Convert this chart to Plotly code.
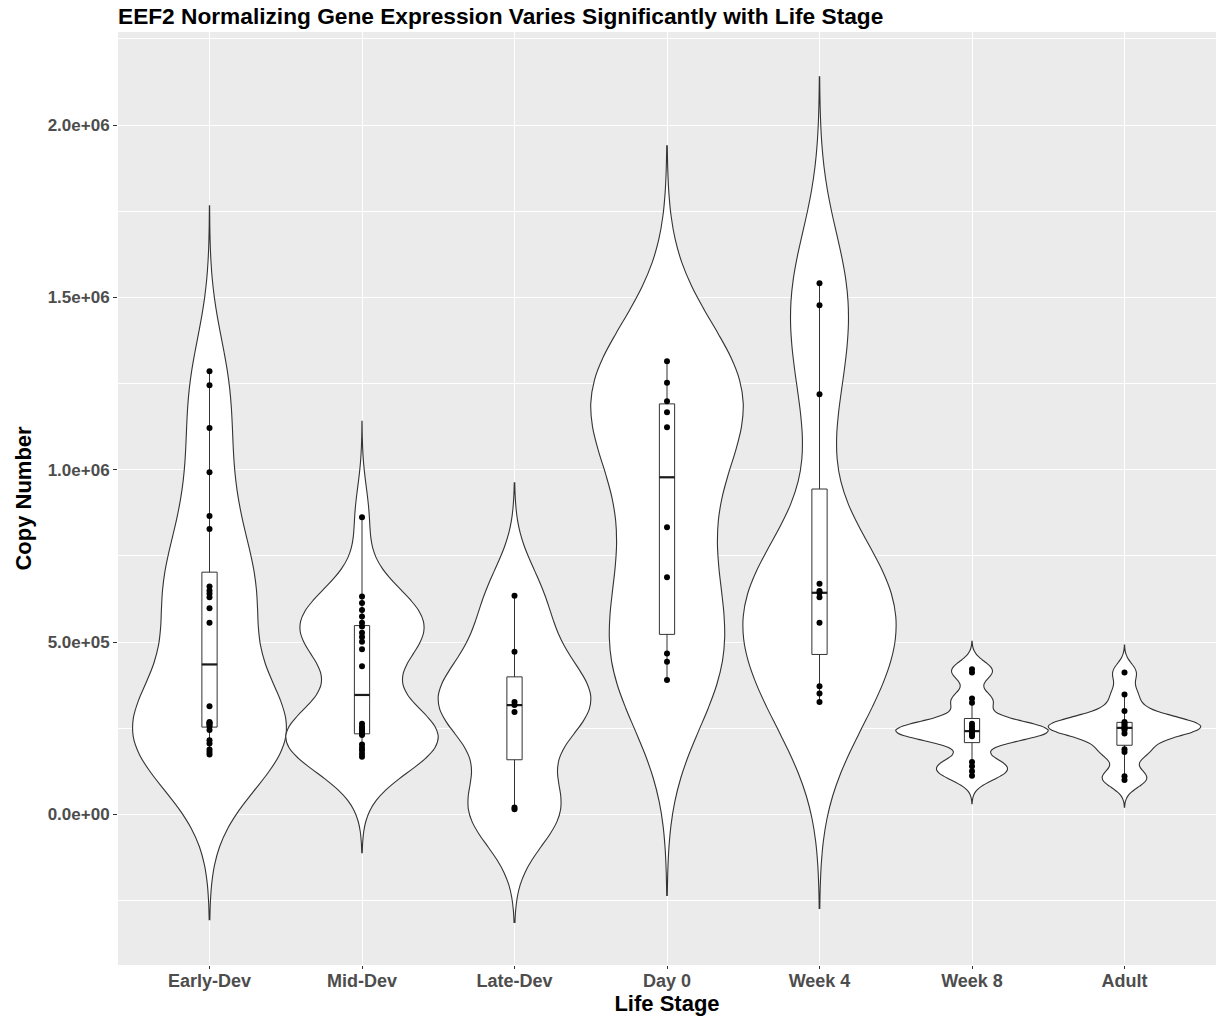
import numpy as np
import plotly.graph_objects as go

# EEF2 copy number per sample, grouped by life stage
stages = ["Early-Dev", "Mid-Dev", "Late-Dev", "Day 0", "Week 4", "Week 8", "Adult"]

early_dev = [174000, 181000, 188000, 206000, 215000, 245000, 256000, 260000, 264000,
             266000, 268000, 314000, 556000, 598000, 630000, 640000, 649000, 661000,
             828000, 866000, 993000, 1121000, 1245000, 1286000]
mid_dev = [167000, 176000, 186000, 193000, 203000, 230000, 235000, 239000, 244000,
           249000, 254000, 263000, 430000, 479000, 501000, 515000, 527000, 545000,
           556000, 574000, 593000, 613000, 632000, 862000]
late_dev = [15000, 20000, 297000, 317000, 326000, 472000, 634000]
day_0 = [390000, 443000, 467000, 688000, 833000, 1123000, 1167000, 1199000, 1252000, 1315000]
week_4 = [326000, 351000, 372000, 556000, 630000, 643000, 648000, 669000, 1219000,
          1477000, 1541000]
week_8 = [112000, 125000, 140000, 152000, 227000, 232000, 237000, 240000, 243000,
          247000, 255000, 263000, 324000, 336000, 412000, 421000]
adult = [100000, 111000, 181000, 189000, 235000, 245000, 249000, 253000, 258000,
         264000, 268000, 300000, 348000, 412000]

groups = [early_dev, mid_dev, late_dev, day_0, week_4, week_8, adult]

y_ticks = [0, 500000, 1000000, 1500000, 2000000]
y_tick_text = [f"{v:.1e}" for v in y_ticks]

FONT = "Liberation Sans, Arial, sans-serif"
LINE = "#333333"


def nrd0(x):
    """Silverman's rule of thumb (R's bw.nrd0)."""
    x = np.asarray(x, float)
    sd = x.std(ddof=1)
    q75, q25 = np.percentile(x, [75, 25])
    return 0.9 * min(sd, (q75 - q25) / 1.34) * len(x) ** -0.2


def box_stats(x):
    x = np.asarray(x, float)
    q1, med, q3 = np.percentile(x, [25, 50, 75])
    iqr = q3 - q1
    lo = x[x >= q1 - 1.5 * iqr].min()
    hi = x[x <= q3 + 1.5 * iqr].max()
    return q1, med, q3, lo, hi


fig = go.Figure()
box_half = 0.05

for i, vals in enumerate(groups):
    pos = i + 1
    arr = np.asarray(vals, float)
    bw = nrd0(arr)
    # untrimmed density: tails run three bandwidths past the data
    fig.add_trace(go.Violin(
        x=[pos] * len(arr), y=arr,
        bandwidth=bw, spanmode="manual",
        span=[arr.min() - 3 * bw, arr.max() + 3 * bw],
        scalemode="width", width=1.0, side="both",
        fillcolor="white", line=dict(color=LINE, width=1.1),
        points=False, box_visible=False, meanline_visible=False,
        hoverinfo="skip", showlegend=False,
    ))

    q1, med, q3, lo, hi = box_stats(arr)
    fig.add_trace(go.Box(
        x=[pos], q1=[q1], median=[med], q3=[q3], lowerfence=[lo], upperfence=[hi],
        width=2 * box_half, whiskerwidth=0, fillcolor="white",
        line=dict(color=LINE, width=1), boxpoints=False,
        hoverinfo="skip", showlegend=False,
    ))
    # heavier median bar, as in ggplot's boxplot
    fig.add_trace(go.Scatter(
        x=[pos - box_half, pos + box_half], y=[med, med], mode="lines",
        line=dict(color="#1a1a1a", width=2.2), hoverinfo="skip", showlegend=False,
    ))
    fig.add_trace(go.Scatter(
        x=[pos] * len(arr), y=arr, mode="markers",
        marker=dict(color="black", size=6, line=dict(width=0)),
        hoverinfo="skip", showlegend=False,
    ))

fig.update_layout(
    width=1217, height=1018,
    margin=dict(l=118, r=1, t=32, b=53),
    paper_bgcolor="white", plot_bgcolor="#EBEBEB",
    violinmode="overlay", boxmode="overlay",
    font=dict(family=FONT, color="black"),
    title=dict(
        text="EEF2 Normalizing Gene Expression Varies Significantly with Life Stage",
        x=0, xref="paper", xanchor="left", y=1 - 16 / 1018, yref="container",
        yanchor="middle", font=dict(family=FONT, size=22.7, weight="bold", color="black"),
    ),
    xaxis=dict(
        range=[0.4, 7.6], tickvals=list(range(1, len(stages) + 1)), ticktext=stages,
        showgrid=True, gridcolor="white", gridwidth=1.1, zeroline=False,
        ticks="outside", ticklen=3, tickcolor=LINE, tickwidth=1,
        ticklabelstandoff=-4,
        tickfont=dict(family=FONT, size=18, weight="bold", color="#4D4D4D"),
        title=dict(text="Life Stage", standoff=0,
                   font=dict(family=FONT, size=22, weight="bold", color="black")),
        showline=False,
    ),
    yaxis=dict(
        range=[-437000, 2270000], tickvals=y_ticks, ticktext=y_tick_text,
        showgrid=True, gridcolor="white", gridwidth=1.1, zeroline=False,
        ticks="outside", ticklen=4, tickcolor=LINE, tickwidth=1,
        tickfont=dict(family=FONT, size=17, weight="bold", color="#4D4D4D"),
        minor=dict(dtick=250000, tick0=0, showgrid=True, gridcolor="white",
                   gridwidth=0.5, ticks=""),
        title=dict(text="Copy Number", standoff=9,
                   font=dict(family=FONT, size=22, weight="bold", color="black")),
        showline=False,
    ),
)

fig.write_html("out.html")
